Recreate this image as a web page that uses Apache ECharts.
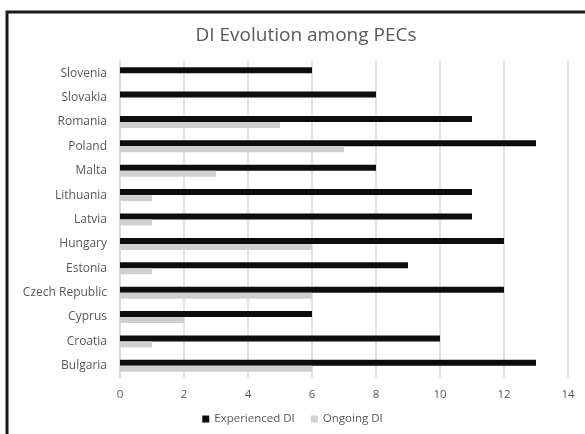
<!DOCTYPE html>
<html>
<head>
<meta charset="utf-8">
<script src="https://cdn.jsdelivr.net/npm/echarts@6/dist/echarts.min.js"></script>
<style>
  html, body { margin: 0; padding: 0; background: #fff; }
  #chart { width: 585px; height: 434px; }
</style>
</head>
<body>
<div id="chart"></div>
<script>
// Countries listed bottom to top on the category axis
const countries = ['Bulgaria', 'Croatia', 'Cyprus', 'Czech Republic', 'Estonia', 'Hungary',
  'Latvia', 'Lithuania', 'Malta', 'Poland', 'Romania', 'Slovakia', 'Slovenia'];
const experiencedDI = [13, 10, 6, 12, 9, 12, 11, 11, 8, 13, 11, 8, 6];
const ongoingDI = [6, 1, 2, 6, 1, 6, 1, 1, 3, 7, 5, 0, 0];
const xTicks = [0, 2, 4, 6, 8, 10, 12, 14];

const font = '"Open Sans", sans-serif';
const chart = echarts.init(document.getElementById('chart'), null, { renderer: 'canvas' });

chart.setOption({
  backgroundColor: '#ffffff',
  animation: false,
  title: {
    text: 'DI Evolution among PECs',
    left: 301, top: 21, textAlign: 'center',
    textStyle: { fontFamily: font, fontSize: 19, fontWeight: 'normal', color: '#595959' }
  },
  legend: {
    bottom: 4, left: 'center',
    itemWidth: 7, itemHeight: 7, itemGap: 16,
    icon: 'rect',
    textStyle: { fontFamily: font, fontSize: 11.5, color: '#595959' },
    data: ['Experienced DI', 'Ongoing DI']
  },
  grid: { left: 120, right: 17, top: 61, bottom: 56 },
  xAxis: {
    type: 'value', min: xTicks[0], max: xTicks[xTicks.length - 1], interval: 2,
    axisLine: { show: false }, axisTick: { show: false },
    splitLine: { lineStyle: { color: '#d9d9d9', width: 1.5 } },
    axisLabel: { fontFamily: font, fontSize: 11.5, color: '#595959', margin: 11 }
  },
  yAxis: {
    type: 'category', data: countries,
    axisLine: { lineStyle: { color: '#d9d9d9', width: 1.5 } },
    axisTick: { show: false },
    axisLabel: { fontFamily: font, fontSize: 12, color: '#595959', margin: 13 }
  },
  series: [
    {
      name: 'Experienced DI', type: 'bar', data: experiencedDI,
      barWidth: 6, barGap: '0%',
      itemStyle: { color: '#0d0d0d' }
    },
    {
      name: 'Ongoing DI', type: 'bar', data: ongoingDI,
      barWidth: 6, barGap: '0%',
      itemStyle: { color: '#d0d0d0' }
    }
  ],
  graphic: [
    {
      type: 'polyline',
      shape: { points: [[7, 434], [7, 12], [585, 12]] },
      style: { stroke: '#1a1a1a', lineWidth: 3, fill: null }
    }
  ]
});
</script>
</body>
</html>
